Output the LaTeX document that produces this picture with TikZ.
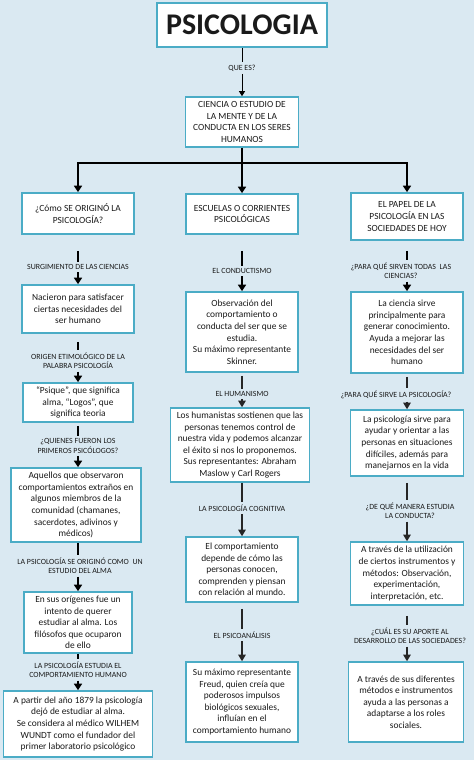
\documentclass[tikz,border=0pt]{standalone}
\usepackage{fontspec}
\setmainfont{Carlito}
\usetikzlibrary{arrows.meta}
\definecolor{PSRefBack}{HTML}{DAE9F2}
\definecolor{PSRefStroke}{HTML}{4BACC6}
\definecolor{PSRefText}{HTML}{1A1A1A}

\begin{document}
\begin{tikzpicture}[x=1pt,y=-1pt,
  psbox/.style={draw=PSRefStroke,fill=white,line width=1.6pt,align=center,text=PSRefText,inner sep=1pt,font=\fontsize{9.4}{11.6}\selectfont},
  pslabel/.style={align=center,text=PSRefText,inner sep=2.5pt,font=\fontsize{7.9}{9.4}\selectfont},
  psthick/.style={line width=2.2pt,black},
  psarrow/.style={psthick,-{Triangle[width=8pt,length=6.5pt]}},
  psthin/.style={line width=1.2pt,black!85},
  psthinarrow/.style={psthin,-{Triangle[width=7.5pt,length=6.5pt]}}]
  \fill[PSRefBack] (0,0) rectangle (474,760);

  % top
  \node[psbox,line width=1.8pt,minimum width=170,minimum height=44,font=\fontsize{30}{32}\selectfont\bfseries] (title) at (242,25) {PSICOLOGIA};
  \node[pslabel] (qes) at (242,68) {QUE ES?};
  \node[psbox,minimum width=113,minimum height=50] (def) at (242,122) {CIENCIA O ESTUDIO DE\\LA MENTE Y DE LA\\CONDUCTA EN LOS SERES\\HUMANOS};
  \draw[line width=0.9pt] (title) -- (qes);
  \draw[line width=0.9pt,-{Triangle[width=6pt,length=5pt]}] (qes) -- (def);

  % first row
  \node[psbox,minimum width=112,minimum height=41] (l1) at (78,213.5) {¿Cómo SE ORIGINÓ LA\\PSICOLOGÍA?};
  \node[psbox,minimum width=112,minimum height=40] (m1) at (242,214) {ESCUELAS O CORRIENTES\\PSICOLÓGICAS};
  \node[psbox,minimum width=112,minimum height=47] (r1) at (407,216.5) {EL PAPEL DE LA\\PSICOLOGÍA EN LAS\\SOCIEDADES DE HOY};
  \coordinate (fork) at (242,163);
  \draw[psthick,line width=2.5pt] (def) -- (fork);
  \draw[psarrow,line width=2.5pt] (fork) -| (l1);
  \draw[psarrow,line width=2.5pt] (fork) -- (m1);
  \draw[psarrow,line width=2.5pt] (fork) -| (r1);

  % left column
  \node[pslabel] (ql1) at (78,267) {SURGIMIENTO DE LAS CIENCIAS};
  \node[psbox,minimum width=112,minimum height=48] (l2) at (78,309) {Nacieron para satisfacer\\ciertas necesidades del\\ser humano};
  \node[pslabel] (ql2) at (78,361) {ORIGEN ETIMOLÓGICO DE LA\\PALABRA PSICOLOGÍA};
  \node[psbox,minimum width=110,minimum height=39] (l3) at (78,402.5) {“Psique”, que significa\\alma, “Logos”, que\\significa teoria};
  \node[pslabel] (ql3) at (78,446) {¿QUIENES FUERON LOS\\PRIMEROS PSICÓLOGOS?};
  \node[psbox,minimum width=130,minimum height=74] (l4) at (76,505) {Aquellos que observaron\\comportamientos extraños en\\algunos miembros de la\\comunidad (chamanes,\\sacerdotes, adivinos y\\médicos)};
  \node[pslabel] (ql4) at (80,566) {LA PSICOLOGÍA SE ORIGINÓ COMO~~UN\\ESTUDIO DEL ALMA};
  \node[psbox,minimum width=108,minimum height=61] (l5) at (78,622.5) {En sus orígenes fue un\\intento de querer\\estudiar al alma. Los\\filósofos que ocuparon\\de ello};
  \node[pslabel] (ql5) at (78,670) {LA PSICOLOGÍA ESTUDIA EL\\COMPORTAMIENTO HUMANO};
  \node[psbox,minimum width=149,minimum height=66] (l6) at (78,724) {A partir del año 1879 la psicología\\dejó de estudiar al alma.\\Se considera al médico WILHEM\\WUNDT como el fundador del\\primer laboratorio psicológico};
  \draw[psthick,shorten <=16pt] (l1) -- (l1 |- ql1.north);
  \draw[psarrow] (ql1.south -| l1) -- (l2);
  \draw[psthick,shorten <=8pt] (l2) -- (l2 |- ql2.north);
  \draw[psarrow] (ql2.south -| l2) -- (l3);
  \draw[psthick,shorten <=3pt] (l3) -- (l3 |- ql3.north);
  \draw[psarrow] (ql3.south -| l3) -- (l3 |- l4.north);
  \draw[psthick] (l4.south -| l3) -- (l3 |- ql4.north);
  \draw[psarrow] (ql4.south -| l5) -- (l5);
  \draw[psthick] (l5) -- (l5 |- ql5.north);
  \draw[psarrow] (ql5.south -| l5) -- (l6);

  % middle column
  \node[pslabel] (qm1) at (242,271) {EL CONDUCTISMO};
  \node[psbox,minimum width=112,minimum height=80] (m2) at (242,332) {Observación del\\comportamiento o\\conducta del ser que se\\estudia.\\Su máximo representante\\Skinner.};
  \node[pslabel] (qm2) at (242,394) {EL HUMANISMO};
  \node[psbox,minimum width=139,minimum height=74] (m3) at (240,445) {Los humanistas sostienen que las\\personas tenemos control de\\nuestra vida y podemos alcanzar\\el éxito si nos lo proponemos.\\Sus representantes: Abraham\\Maslow y Carl Rogers};
  \node[pslabel] (qm3) at (242,508) {LA PSICOLOGÍA COGNITIVA};
  \node[psbox,minimum width=112,minimum height=65] (m4) at (242,569.5) {El comportamiento\\depende de cómo las\\personas conocen,\\comprenden y piensan\\con relación al mundo.};
  \node[pslabel] (qm4) at (242,635) {EL PSICOANÁLISIS};
  \node[psbox,minimum width=112,minimum height=80] (m5) at (242,702) {Su máximo representante\\Freud, quien creía que\\poderosos impulsos\\biológicos sexuales,\\influían en el\\comportamiento humano};
  \draw[psthick,shorten <=16pt] (m1) -- (m1 |- qm1.north);
  \draw[psarrow] (qm1.south -| m1) -- (m2);
  \draw[psthin,shorten <=3pt] (m2) -- (m2 |- qm2.north);
  \draw[psthinarrow] (qm2.south -| m2) -- (m2 |- m3.north);
  \draw[psthin] (m2 |- m3.south) -- (m2 |- qm3.north);
  \draw[psthinarrow] (qm3.south -| m4) -- (m4);
  \draw[psthin,shorten <=6pt] (m4) -- (m4 |- qm4.north);
  \draw[psthinarrow] (qm4.south -| m4) -- (m5);

  % right column
  \node[pslabel] (qr1) at (401,271) {¿PARA QUÉ SIRVEN TODAS~~LAS\\CIENCIAS?};
  \node[psbox,minimum width=112,minimum height=81] (r2) at (407,332.5) {La ciencia sirve\\principalmente para\\generar conocimiento.\\Ayuda a mejorar las\\necesidades del ser\\humano};
  \node[pslabel] (qr2) at (396,395) {¿PARA QUÉ SIRVE LA PSICOLOGÍA?};
  \node[psbox,minimum width=113,minimum height=66] (r3) at (407,443) {La psicología sirve para\\ayudar y orientar a las\\personas en situaciones\\difíciles, además para\\manejarnos en la vida};
  \node[pslabel] (qr3) at (410,511) {¿DE QUÉ MANERA ESTUDIA\\LA CONDUCTA?};
  \node[psbox,minimum width=113,minimum height=63] (r4) at (407,573.5) {A través de la utilización\\de ciertos instrumentos y\\métodos: Observación,\\experimentación,\\interpretación, etc.};
  \node[pslabel] (qr4) at (410,636) {¿CUÁL ES SU APORTE AL\\DESARROLLO DE LAS SOCIEDADES?};
  \node[psbox,minimum width=115,minimum height=80] (r5) at (406,702) {A través de sus diferentes\\métodos e instrumentos\\ayuda a las personas a\\adaptarse a los roles\\sociales.};
  \draw[psthick,shorten <=10pt] (r1) -- (r1 |- qr1.north);
  \draw[psarrow] (qr1.south -| r1) -- (r2);
  \draw[psthin,shorten <=3pt] (r2) -- (r2 |- qr2.north);
  \draw[psthinarrow] (qr2.south -| r2) -- (r3);
  \draw[psthin,shorten <=6pt] (r3) -- (r3 |- qr3.north);
  \draw[psthinarrow] (qr3.south -| r3) -- (r4);
  \draw[psthin,shorten <=10pt] (r4) -- (r4 |- qr4.north);
  \draw[psthinarrow] (qr4.south -| r4) -- (r4 |- r5.north);
\end{tikzpicture}
\end{document}
